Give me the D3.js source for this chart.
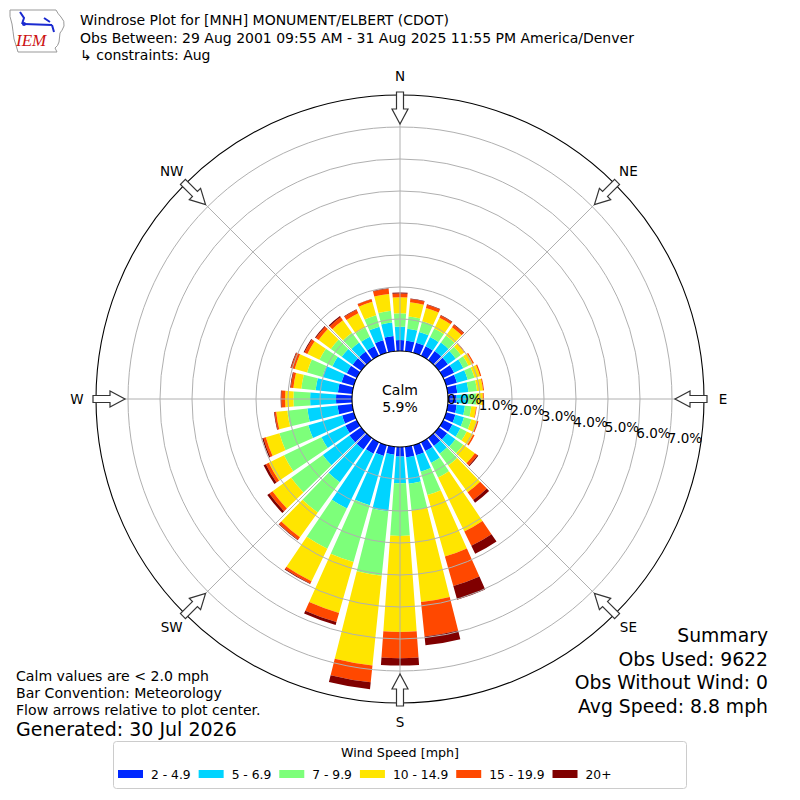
<!DOCTYPE html>
<html>
<head>
<meta charset="utf-8">
<script src="https://cdn.jsdelivr.net/npm/d3@7"></script>
<style>
  body { margin: 0; background: #fff; }
  text { font-family: "DejaVu Sans", sans-serif; fill: #000; }
</style>
</head>
<body>
<div id="chart"></div>
<script>
// --- DATA ---
const directions = [0,10,20,30,40,50,60,70,80,90,100,110,120,130,140,150,160,170,
                    180,190,200,210,220,230,240,250,260,270,280,290,300,310,320,330,340,350];
const speedBins = ["2 - 4.9", "5 - 6.9", "7 - 9.9", "10 - 14.9", "15 - 19.9", "20+"];

// percent of observations per direction, one array per speed bin
const spd2to5 = [.34,.33,.33,.33,.35,.35,.38,.35,.30,.27,.28,.30,.32,.32,.31,.31,.33,.33,
                 .30,.25,.35,.40,.45,.45,.40,.38,.46,.50,.45,.40,.35,.33,.33,.33,.41,.48];
const spd5to7 = [.42,.38,.35,.32,.33,.30,.32,.35,.35,.35,.26,.28,.28,.32,.30,.41,.53,.83,
                 .83,1.78,1.60,1.90,1.26,1.03,.83,1.10,.95,.81,.70,.62,.50,.42,.35,.33,.44,.42];
const spd7to10 = [.42,.38,.35,.30,.27,.20,.18,.22,.27,.27,.20,.24,.22,.30,.46,.51,.76,.84,
                  1.65,2.02,1.85,1.40,1.17,1.22,1.30,.94,.63,.52,.45,.50,.45,.42,.38,.32,.37,.37];
const spd10to15 = [.50,.45,.43,.37,.32,.13,.15,.18,.19,.20,.15,.18,.22,.45,1.03,1.87,2.00,2.88,
                   3.00,2.82,1.65,1.13,.95,.72,.53,.44,.35,.26,.25,.40,.42,.47,.48,.50,.44,.53];
const spd15to20 = [.12,.10,.10,.08,.09,.03,.04,.04,.03,.03,.02,.05,.05,.10,.30,.50,.96,1.08,
                   .82,.53,.30,.08,.10,.12,.10,.08,.05,.12,.08,.12,.10,.11,.12,.12,.08,.16];
const spd20plus = [.03,.02,.02,.02,.02,0,0,0,0,0,0,0,0,.03,.10,.28,.44,.28,
                   .23,.22,.09,.02,.02,.08,.08,.04,.02,.02,.02,.02,.03,.03,.04,.02,.01,.02];

const ringTicks = [0, 1, 2, 3, 4, 5, 6, 7];
const compassLabels = ["N", "NE", "E", "SE", "S", "SW", "W", "NW"];
const calmPct = 5.9;

const binColors = ["#0028ff", "#00d4ff", "#7dff7a", "#ffe500", "#ff4800", "#800000"];

// --- SVG ---
const W = 800, H = 800, cx = 400, cy = 399;
const svg = d3.select("#chart").append("svg")
  .attr("width", W).attr("height", H);
svg.append("rect").attr("width", W).attr("height", H).attr("fill", "#fff");

const g = svg.append("g").attr("transform", `translate(${cx},${cy})`);

// radial scale: percent -> pixels (calm circle is the origin)
const r = d3.scaleLinear().domain([0, 8]).range([48, 304]);
const toRad = d => d * Math.PI / 180;

// stack the bins per direction
const series = [spd2to5, spd5to7, spd7to10, spd10to15, spd15to20, spd20plus];
const rows = directions.map((dir, i) => {
  const o = {dir};
  speedBins.forEach((b, j) => o[b] = series[j][i]);
  return o;
});
const stacked = d3.stack().keys(speedBins)(rows);

const halfW = 4.1;
const arc = d3.arc()
  .innerRadius(d => r(d[0]))
  .outerRadius(d => r(d[1]))
  .startAngle(d => toRad(d.data.dir - halfW))
  .endAngle(d => toRad(d.data.dir + halfW));

g.selectAll(".layer")
  .data(stacked)
  .join("g")
    .attr("class", "layer")
    .attr("fill", (d, i) => binColors[i])
  .selectAll("path")
  .data(d => d.filter(s => s[1] - s[0] > 0))
  .join("path")
    .attr("d", arc);

// grid rings and spokes on top of the bars
g.selectAll(".ring")
  .data(ringTicks.slice(1))
  .join("circle")
    .attr("r", d => r(d))
    .attr("fill", "none")
    .attr("stroke", "#b0b0b0")
    .attr("stroke-width", 1);

g.selectAll(".spoke")
  .data(d3.range(0, 360, 45))
  .join("line")
    .attr("x1", d => r(0) * Math.sin(toRad(d)))
    .attr("y1", d => -r(0) * Math.cos(toRad(d)))
    .attr("x2", d => r(8) * Math.sin(toRad(d)))
    .attr("y2", d => -r(8) * Math.cos(toRad(d)))
    .attr("stroke", "#b0b0b0")
    .attr("stroke-width", 1);

// outer frame
g.append("circle").attr("r", r(8)).attr("fill", "none")
  .attr("stroke", "#000").attr("stroke-width", 1.1);

// calm circle
g.append("circle").attr("r", r(0)).attr("fill", "#fff")
  .attr("stroke", "#000").attr("stroke-width", 1.1);
g.append("text").attr("x", 0).attr("y", -4).attr("text-anchor", "middle")
  .style("font-size", "14px").text("Calm");
g.append("text").attr("x", 0).attr("y", 13).attr("text-anchor", "middle")
  .style("font-size", "14px").text(calmPct.toFixed(1) + "%");

// ring labels along 100 deg, anchored bottom-left
const labAng = toRad(100);
g.selectAll(".rlab")
  .data(ringTicks)
  .join("text")
    .attr("x", d => r(d) * Math.sin(labAng))
    .attr("y", d => -r(d) * Math.cos(labAng) - 3)
    .style("font-size", "13.5px")
    .text(d => d.toFixed(1) + "%");

// compass arrows pointing to the centre
const arrowPts = [[-3.5,-307],[3.5,-307],[3.5,-290],[8,-290],[0,-275],[-8,-290],[-3.5,-290]];
g.selectAll(".arrow")
  .data(d3.range(0, 360, 45))
  .join("polygon")
    .attr("points", arrowPts.map(p => p.join(",")).join(" "))
    .attr("transform", d => `rotate(${d})`)
    .attr("fill", "#fff")
    .attr("stroke", "#333")
    .attr("stroke-width", 1.2);

g.selectAll(".clab")
  .data(compassLabels)
  .join("text")
    .attr("x", (d, i) => 323 * Math.sin(toRad(i * 45)))
    .attr("y", (d, i) => -323 * Math.cos(toRad(i * 45)) + 5)
    .attr("text-anchor", "middle")
    .style("font-size", "13.5px")
    .text(d => d);

// --- HEADER ---
const logo = svg.append("g").attr("transform", "translate(4,4)");
logo.append("path")
  .attr("d", "M6,6 L52,6 Q54,10 57,13 Q61,17 60,22 Q58,27 56,29 L55,38 Q54,42 51,44 L53,48 L14,48 Q12,41 10,35 Q9,27 8,20 Q5,12 6,6 Z")
  .attr("fill", "none").attr("stroke", "#999").attr("stroke-width", 1);
logo.append("line").attr("x1", 20).attr("y1", 20).attr("x2", 48).attr("y2", 21)
  .attr("stroke", "#1a2ad0").attr("stroke-width", 2);
logo.append("path").attr("d", "M16,8 L20,14 L18,20 M40,14 L46,18 M48,21 L50,28")
  .attr("fill", "none").attr("stroke", "#1a2ad0").attr("stroke-width", 2);
logo.append("circle").attr("cx", 20).attr("cy", 20).attr("r", 2).attr("fill", "#1a2ad0");
logo.append("text").attr("x", 12).attr("y", 42)
  .style("font-family", "'Liberation Serif', serif").style("font-style", "italic")
  .style("font-size", "17px").style("fill", "#cc1111").text("IEM");

svg.append("text").attr("x", 80).attr("y", 25).style("font-size", "14px")
  .text("Windrose Plot for [MNH] MONUMENT/ELBERT (CDOT)");
svg.append("text").attr("x", 80).attr("y", 43).style("font-size", "14px")
  .text("Obs Between: 29 Aug 2001 09:55 AM - 31 Aug 2025 11:55 PM America/Denver");
svg.append("text").attr("x", 80).attr("y", 60).style("font-size", "14px")
  .text(" \u21B3 constraints: Aug");

// --- FOOTNOTES ---
const notes = ["Calm values are < 2.0 mph", "Bar Convention: Meteorology", "Flow arrows relative to plot center."];
svg.selectAll(".note").data(notes).join("text")
  .attr("x", 16).attr("y", (d, i) => 681 + i * 17)
  .style("font-size", "14.1px").text(d => d);
svg.append("text").attr("x", 16).attr("y", 736).style("font-size", "19px")
  .text("Generated: 30 Jul 2026");

const summary = ["Summary", "Obs Used: 9622", "Obs Without Wind: 0", "Avg Speed: 8.8 mph"];
svg.selectAll(".summ").data(summary).join("text")
  .attr("x", 768).attr("y", (d, i) => 642 + i * 23.7)
  .attr("text-anchor", "end")
  .style("font-size", "18.8px").text(d => d);

// --- LEGEND ---
const leg = svg.append("g");
leg.append("rect").attr("x", 113.5).attr("y", 741.5).attr("width", 573).attr("height", 47)
  .attr("rx", 3).attr("fill", "#fff").attr("stroke", "#cccccc");
leg.append("text").attr("x", 400).attr("y", 757).attr("text-anchor", "middle")
  .style("font-size", "12.7px").text("Wind Speed [mph]");
const items = leg.selectAll(".item").data(speedBins).join("g");
items.append("rect").attr("y", 770).attr("width", 25).attr("height", 8)
  .attr("fill", (d, i) => binColors[i]);
items.append("text").attr("x", 33).attr("y", 779).style("font-size", "12.3px").text(d => d);
// lay the items out one after the other
let xPos = 118;
items.each(function() {
  const item = d3.select(this);
  item.attr("transform", `translate(${xPos},0)`);
  xPos += 33 + item.select("text").node().getComputedTextLength() + 8;
});
</script>
</body>
</html>
